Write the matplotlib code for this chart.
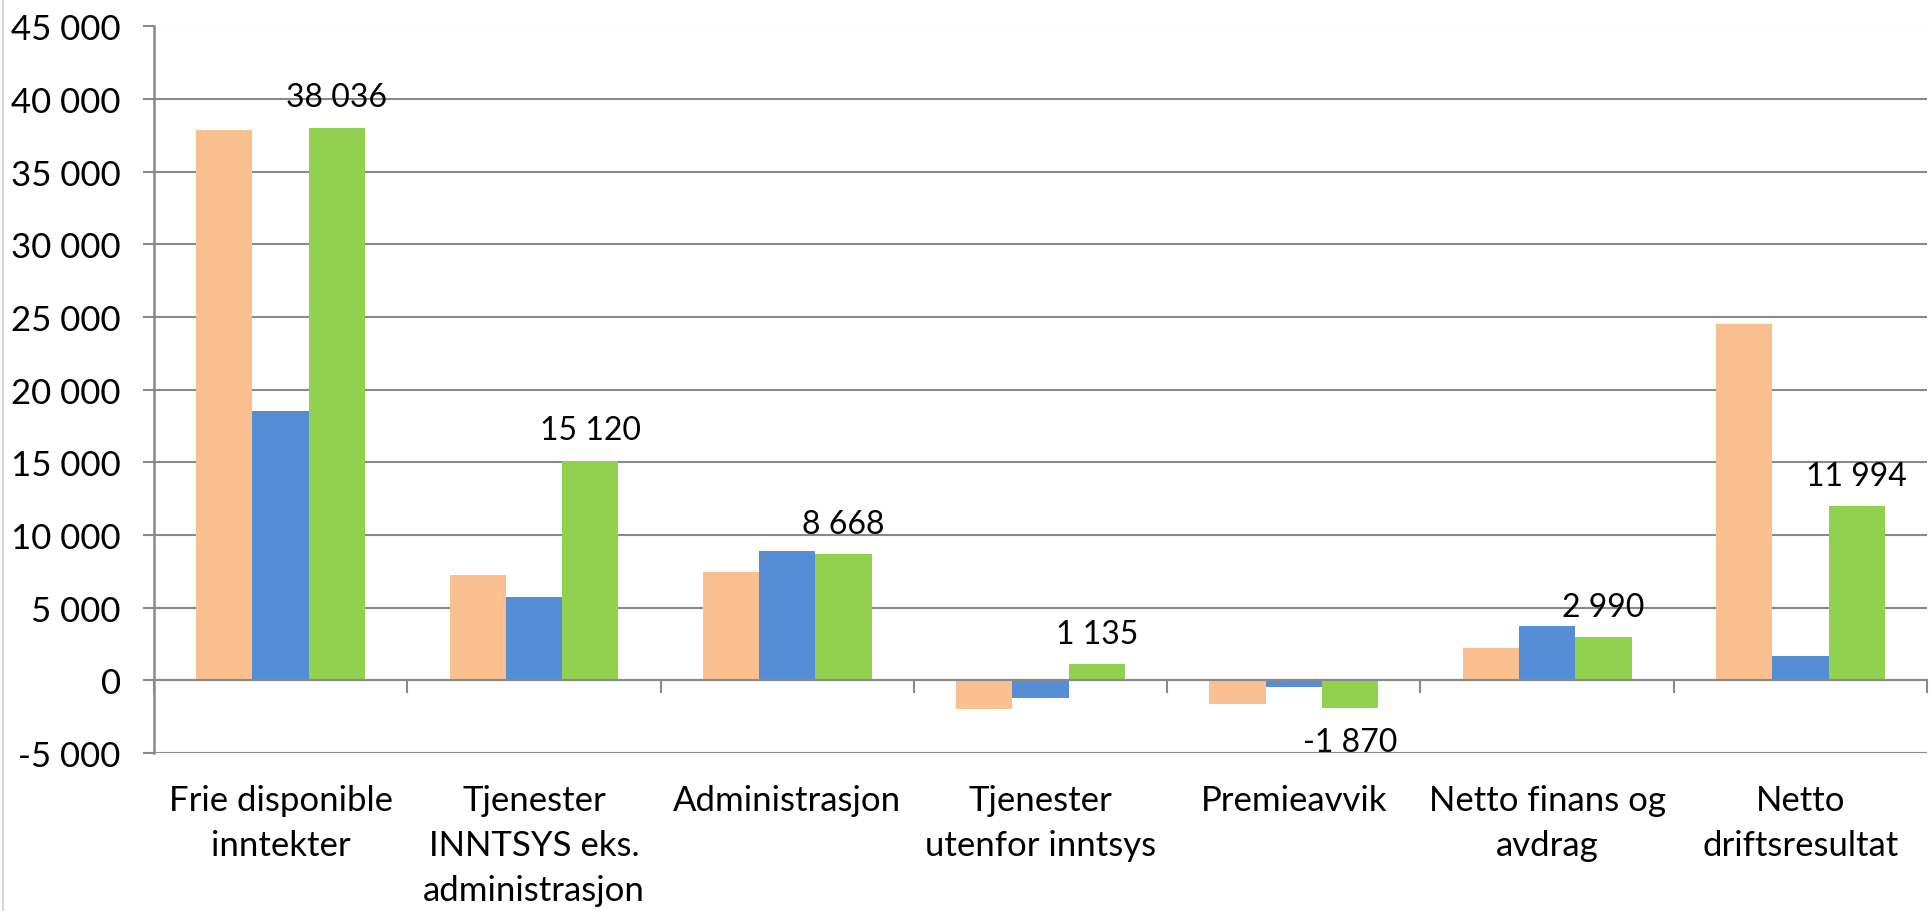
import matplotlib
matplotlib.use("Agg")
import matplotlib.pyplot as plt
import numpy as np
from matplotlib.lines import Line2D
from matplotlib.ticker import FuncFormatter

categories = ["Frie disponible\ninntekter",
              "Tjenester\nINNTSYS eks.\nadministrasjon",
              "Administrasjon",
              "Tjenester\nutenfor inntsys",
              "Premieavvik",
              "Netto finans og\navdrag",
              "Netto\ndriftsresultat"]
series_a = [37900, 7230, 7440, -1950, -1600, 2250, 24500]
series_b = [18550, 5760, 8890, -1220, -480, 3720, 1660]
series_c = [38036, 15120, 8668, 1135, -1870, 2990, 11994]
y_ticks = list(range(-5000, 45001, 5000))
colors = ["#FAC090", "#558ED5", "#92D050"]

plt.rcParams['font.family'] = ['Lato', 'DejaVu Sans']

W, H = 1930, 912
fig = plt.figure(figsize=(W / 100, H / 100), dpi=100)
ax = fig.add_axes([154 / W, 1 - 754 / H, (1927 - 154) / W, (754 - 27.5) / H])

x = np.arange(len(categories))
w = 1 / 4.5
grid_col = "#898989"


def fmt(v):
    return f"{int(round(v)):,}".replace(",", " ")


for k, (vals, c) in enumerate(zip([series_a, series_b, series_c], colors)):
    bars = ax.bar(x + (k - 1) * w, vals, w, color=c, zorder=3, linewidth=0)
    if k == 2:
        for b, v in zip(bars, vals):
            cx = b.get_x() + b.get_width() / 2
            if v >= 0:
                ax.annotate(fmt(v), (cx, v), xytext=(0, 11), textcoords="offset points",
                            ha="center", va="bottom", fontsize=23, zorder=5)
            else:
                ax.annotate(fmt(v), (cx, v), xytext=(0, -14), textcoords="offset points",
                            ha="center", va="top", fontsize=23, zorder=5)

ax.set_xlim(-0.5, len(categories) - 0.5)
ax.set_ylim(y_ticks[0], y_ticks[-1])
ax.set_yticks(y_ticks)
ax.yaxis.set_major_formatter(FuncFormatter(lambda v, p: fmt(v)))
ax.yaxis.grid(True, color=grid_col, lw=1.5, zorder=0)
ax.set_axisbelow(True)
ax.tick_params(axis="y", length=8, width=1.5, color=grid_col, labelsize=25, pad=16,
               labelcolor="black")

# x axis at zero with boundary ticks
ax.spines["bottom"].set_position(("data", 0))
ax.spines["bottom"].set_color(grid_col)
ax.spines["bottom"].set_linewidth(1.5)
ax.spines["bottom"].set_zorder(4)
ax.set_xticks(np.arange(len(categories) + 1) - 0.5)
ax.set_xticklabels([])
ax.tick_params(axis="x", length=9, width=1.5, color=grid_col, direction="out")

ax.spines["left"].set_color(grid_col)
ax.spines["left"].set_linewidth(1.8)
ax.spines["top"].set_visible(False)
ax.spines["right"].set_visible(False)

sec = ax.secondary_xaxis(0.0)
sec.set_xticks(x)
sec.set_xticklabels(categories, fontsize=25, linespacing=1.5)
sec.tick_params(length=0, pad=22)
sec.spines["bottom"].set_visible(False)

fig.add_artist(Line2D([0.0015, 0.0015], [0, 1], transform=fig.transFigure,
                      color="#d9d9d9", lw=1.5))

fig.savefig("out.png", dpi=100)
